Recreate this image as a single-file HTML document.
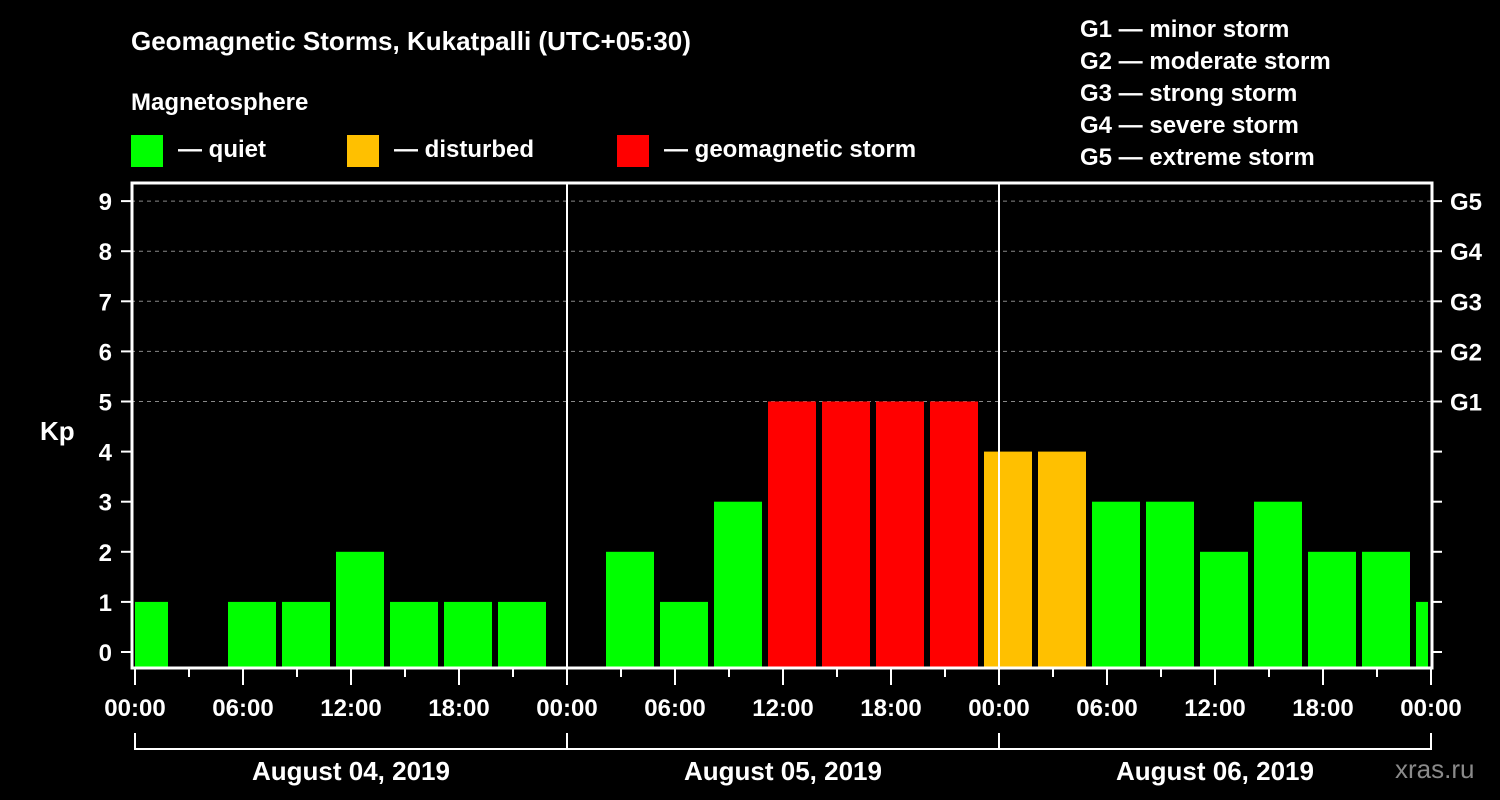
<!DOCTYPE html>
<html><head><meta charset="utf-8"><style>
html,body{margin:0;padding:0;background:#000;width:1500px;height:800px;overflow:hidden}
svg text{font-family:"Liberation Sans",Arial,sans-serif;font-weight:bold;fill:#fff}
</style></head><body>
<svg id="chart" width="1500" height="800" viewBox="0 0 1500 800">
<rect width="1500" height="800" fill="#000"/>
<text x="131" y="50" font-size="26">Geomagnetic Storms, Kukatpalli (UTC+05:30)</text>
<text x="131" y="110" font-size="24">Magnetosphere</text>
<g><rect x="131" y="135" width="32" height="32" fill="#00ff00"/><text x="178" y="157" font-size="24">— quiet</text></g>
<g><rect x="347" y="135" width="32" height="32" fill="#ffc000"/><text x="394" y="157" font-size="24">— disturbed</text></g>
<g><rect x="617" y="135" width="32" height="32" fill="#ff0000"/><text x="664" y="157" font-size="24">— geomagnetic storm</text></g>
<g font-size="24">
<text x="1080" y="37">G1 — minor storm</text>
<text x="1080" y="69">G2 — moderate storm</text>
<text x="1080" y="101">G3 — strong storm</text>
<text x="1080" y="133">G4 — severe storm</text>
<text x="1080" y="165">G5 — extreme storm</text>
</g>
<g id="grid"></g>
<g id="bars"></g>
<g id="axes"></g>
<text x="40" y="440" font-size="26">Kp</text>
<text x="1395" y="778" font-size="26" fill="#888" style="fill:#8a8a8a;font-weight:normal">xras.ru</text>
</svg>
<script>
const kpValues = [1,0,1,1,2,1,1,1,0,2,1,3,5,5,5,5,4,4,3,3,2,3,2,2,1];
const yTicks = [0,1,2,3,4,5,6,7,8,9];
const gLabels = ["G1","G2","G3","G4","G5"];
const xTickLabels = ["00:00","06:00","12:00","18:00","00:00","06:00","12:00","18:00","00:00","06:00","12:00","18:00","00:00"];
const dayLabels = ["August 04, 2019","August 05, 2019","August 06, 2019"];

const NS="http://www.w3.org/2000/svg";
const L=131,R=1433,T=183,B=668,X0=135,PXH=18;
const y=v=>652-v*50.1;
const xh=h=>X0+h*PXH;
function mk(tag,attrs,parent,txt){const e=document.createElementNS(NS,tag);for(const k in attrs)e.setAttribute(k,attrs[k]);if(txt!=null)e.textContent=txt;parent.appendChild(e);return e;}
const grid=document.getElementById('grid'),bars=document.getElementById('bars'),axes=document.getElementById('axes');
[5,6,7,8,9].forEach(v=>{const l=mk('line',{x1:L,x2:R,y1:y(v),y2:y(v),stroke:'#888','stroke-dasharray':'4,4','stroke-width':1},grid);

});
kpValues.forEach((v,i)=>{
  if(v<=0)return;
  let x1=xh(i*3-0.8333),x2=x1+48;
  x1=Math.max(x1,135);x2=Math.min(x2,1428);
  const c=v>=5?'#ff0000':(v>=4?'#ffc000':'#00ff00');
  const r=mk('rect',{x:x1,y:y(v),width:x2-x1,height:B-y(v),fill:c},bars);
  
  
});
[1,2].forEach(d=>{const l=mk('line',{x1:xh(24*d),x2:xh(24*d),y1:T,y2:B,stroke:'#fff','stroke-width':2},axes);

});
const fr=mk('rect',{x:L+1,y:T,width:R-L-2,height:B-T,fill:'none',stroke:'#fff','stroke-width':3},axes);


yTicks.forEach(v=>{
  mk('line',{x1:121,x2:L,y1:y(v),y2:y(v),stroke:'#fff','stroke-width':2},axes);
  mk('line',{x1:R,x2:1442,y1:y(v),y2:y(v),stroke:'#fff','stroke-width':2},axes);
  const t=mk('text',{x:112,y:y(v)+9,'font-size':24,'text-anchor':'end'},axes,String(v));
  
  
});
gLabels.forEach((g,i)=>{const t=mk('text',{x:1450,y:y(5+i)+9,'font-size':24},axes,g);

});
for(let h=0;h<=72;h+=3){const major=h%6===0;mk('line',{x1:xh(h),x2:xh(h),y1:B,y2:major?685:677,stroke:'#fff','stroke-width':2},axes);}
xTickLabels.forEach((s,i)=>{const t=mk('text',{x:xh(i*6),y:716,'font-size':24,'text-anchor':'middle'},axes,s);

});
mk('line',{x1:xh(0),x2:xh(72),y1:749,y2:749,stroke:'#fff','stroke-width':2},axes);
for(let d=0;d<=3;d++)mk('line',{x1:xh(24*d),x2:xh(24*d),y1:733,y2:750,stroke:'#fff','stroke-width':2},axes);
dayLabels.forEach((s,i)=>{const t=mk('text',{x:xh(24*i+12),y:780,'font-size':26,'text-anchor':'middle'},axes,s);

});
</script>
</body></html>
